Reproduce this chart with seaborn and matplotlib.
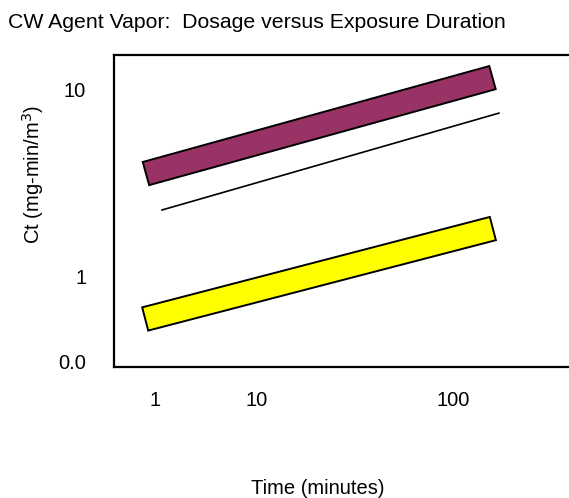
import numpy as np
import pandas as pd
import matplotlib
matplotlib.use('Agg')
import matplotlib.pyplot as plt
import seaborn as sns

# Данные (читаются с картинки): начало и конец каждой полосы
purple_time = [0.87, 184]
purple_ct = [3.55, 11.5]
line_time = [1.11, 204]
line_ct = [2.27, 7.45]
yellow_time = [0.86, 185]
yellow_ct = [0.598, 1.81]

x_ticks = [1, 4.84, 100]
x_labels = ['1', '10', '100']
y_ticks = [0.357, 1, 10]
y_labels = ['0.0', '1', '10']

sns.set_theme(style='white')
plt.rcParams['font.family'] = ['Liberation Sans', 'DejaVu Sans']
plt.rcParams['text.color'] = 'black'

fs = 14.5

fig = plt.figure(figsize=(5.69, 4.98), dpi=100)
ax = fig.add_axes([114 / 569, 1 - 367 / 498, 455 / 569, 312 / 498])
ax.set_xscale('log')
ax.set_yscale('log')
ax.set_xlim(0.531, 600)
ax.set_ylim(0.332, 15.17)

# тонкая линия
df = pd.DataFrame({'time': line_time, 'ct': line_ct})
sns.lineplot(data=df, x='time', y='ct', color='black', linewidth=1.2, ax=ax)


def band(xs, ys, color, width_px=24):
    # полоса постоянной толщины в пикселях вокруг линии данных
    p = ax.transData.transform(np.column_stack([xs, ys]))
    d = p[1] - p[0]
    n = np.array([-d[1], d[0]]) / np.hypot(*d) * width_px / 2
    corners = np.array([p[0] + n, p[1] + n, p[1] - n, p[0] - n])
    c = ax.transData.inverted().transform(corners)
    ax.fill(c[:, 0], c[:, 1], facecolor=color, edgecolor='black', linewidth=1.4, zorder=3)


band(purple_time, purple_ct, '#993366')
band(yellow_time, yellow_ct, '#FFFF00')

ax.xaxis.set_minor_locator(matplotlib.ticker.NullLocator())
ax.yaxis.set_minor_locator(matplotlib.ticker.NullLocator())
ax.set_xticks(x_ticks)
ax.set_xticklabels(x_labels)
ax.set_yticks(y_ticks)
ax.set_yticklabels(y_labels)
ax.tick_params(axis='both', length=0, labelsize=fs, colors='black')
ax.tick_params(axis='x', pad=17)
ax.tick_params(axis='y', pad=20)
ax.set_xlabel('')
ax.set_ylabel('')

for s in ['left', 'top', 'bottom']:
    ax.spines[s].set_color('black')
    ax.spines[s].set_linewidth(1.6)
ax.spines['right'].set_visible(False)

fig.text(8 / 569, 1 - 23 / 498, 'CW Agent Vapor:  Dosage versus Exposure Duration',
         fontsize=15.3, ha='left', va='center')
fig.text(33 / 569, 1 - 175 / 498, 'Ct (mg-min/m$^3$)', fontsize=fs,
         rotation=90, ha='center', va='center')
fig.text(318 / 569, 1 - 488 / 498, 'Time (minutes)', fontsize=fs,
         ha='center', va='center')

fig.savefig('out.png', dpi=100)
